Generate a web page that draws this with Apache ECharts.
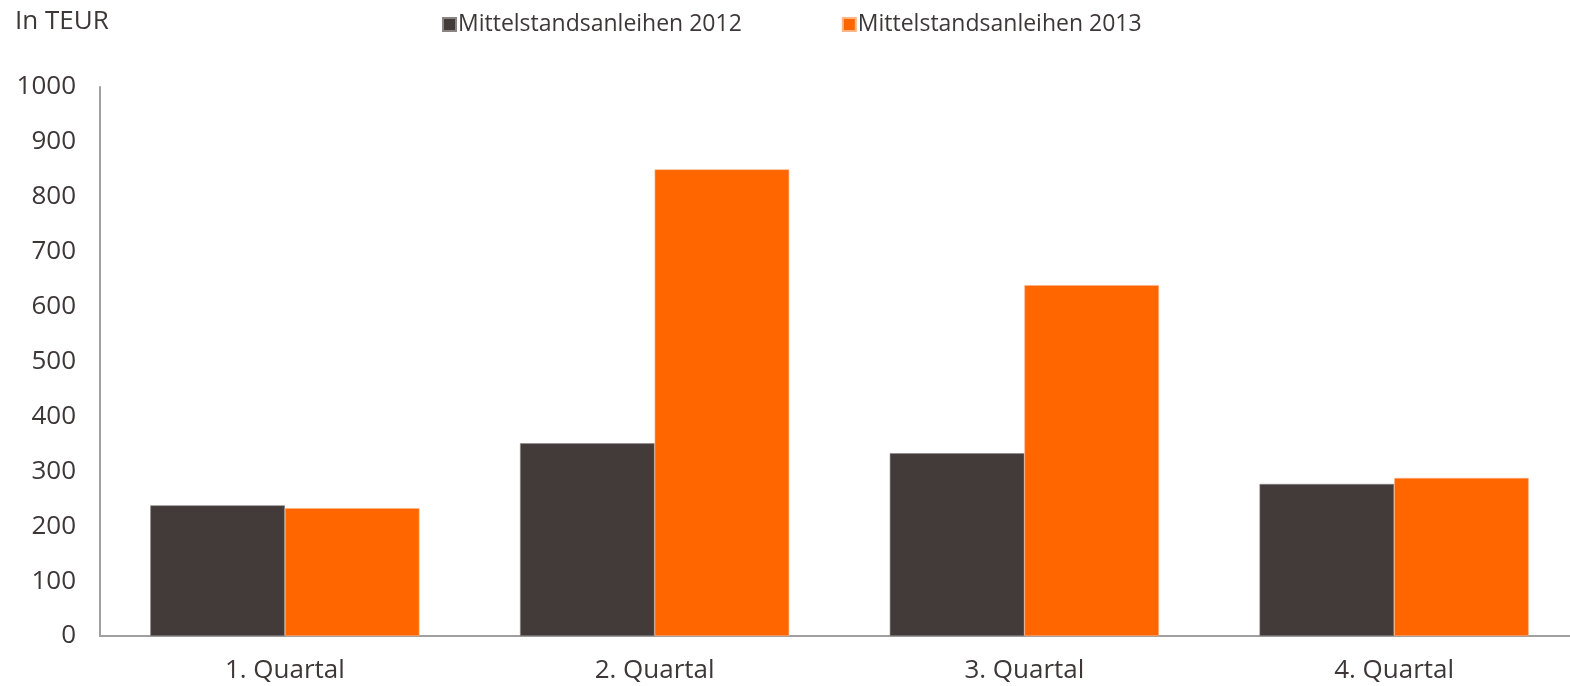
<!DOCTYPE html>
<html>
<head>
<meta charset="utf-8">
<script src="https://cdn.jsdelivr.net/npm/echarts@6/dist/echarts.min.js"></script>
<style>
  html, body { margin: 0; padding: 0; background: #fff; }
  #chart-container { width: 1570px; height: 686px; }
</style>
</head>
<body>
<div id="chart-container"></div>
<script>
var categories = ["1. Quartal", "2. Quartal", "3. Quartal", "4. Quartal"];
var seriesNames = ["Mittelstandsanleihen 2012", "Mittelstandsanleihen 2013"];
var values2012 = [238, 351, 333, 277];
var values2013 = [233, 850, 639, 288];

var dom = document.getElementById("chart-container");
var myChart = echarts.init(dom, null, { renderer: "canvas" });

var font = "'Open Sans', sans-serif";
var textColor = "#3d3736";

var option = {
  animation: false,
  title: {
    text: "In TEUR",
    left: 10,
    top: 4,
    textStyle: { fontFamily: font, fontSize: 26, fontWeight: "normal", color: textColor }
  },
  legend: {
    data: seriesNames,
    left: 437,
    top: 8,
    itemWidth: 13,
    itemHeight: 13,
    itemGap: 100,
    icon: "rect",
    textStyle: { fontFamily: font, fontSize: 23, color: textColor, padding: [0, 0, 0, -3] }
  },
  grid: { left: 100, top: 87, bottom: 50, width: 1479, outerBoundsMode: "none" },
  xAxis: {
    type: "category",
    data: categories,
    axisLine: { lineStyle: { color: "#a0a0a0", width: 2 } },
    axisTick: { show: false },
    axisLabel: { fontFamily: font, fontSize: 26, color: textColor, margin: 22 }
  },
  yAxis: {
    type: "value",
    min: 0,
    max: 1000,
    interval: 100,
    axisLine: { show: true, lineStyle: { color: "#a0a0a0", width: 2 } },
    axisTick: { show: false },
    splitLine: { show: false },
    axisLabel: {
      fontFamily: font, fontSize: 26, color: textColor, margin: 24,
      formatter: function (v) { return String(v); }
    }
  },
  series: [
    {
      name: seriesNames[0],
      type: "bar",
      data: values2012,
      barWidth: "36.4%",
      barGap: "0%",
      itemStyle: { color: "#433b3a", borderColor: "#8a8483", borderWidth: 0.6 }
    },
    {
      name: seriesNames[1],
      type: "bar",
      data: values2013,
      barWidth: "36.4%",
      barGap: "0%",
      itemStyle: { color: "#ff6600", borderColor: "#ffb58a", borderWidth: 0.6 }
    }
  ]
};

myChart.setOption(option);
window.addEventListener("resize", myChart.resize);
</script>
</body>
</html>
